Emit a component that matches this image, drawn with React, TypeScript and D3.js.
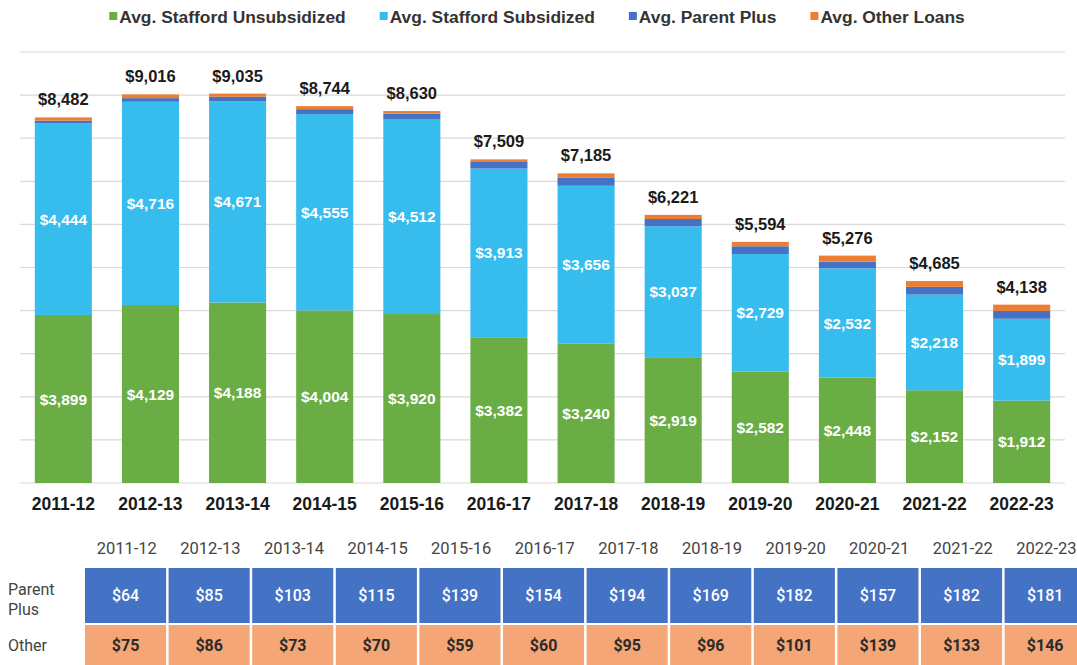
import React, { useEffect, useRef } from 'react';
import * as d3 from 'd3';

const years = ['2011-12', '2012-13', '2013-14', '2014-15', '2015-16', '2016-17', '2017-18', '2018-19', '2019-20', '2020-21', '2021-22', '2022-23'];
const unsubsidized = [3899, 4129, 4188, 4004, 3920, 3382, 3240, 2919, 2582, 2448, 2152, 1912];
const subsidized = [4444, 4716, 4671, 4555, 4512, 3913, 3656, 3037, 2729, 2532, 2218, 1899];
const parentPlus = [64, 85, 103, 115, 139, 154, 194, 169, 182, 157, 182, 181];
const otherLoans = [75, 86, 73, 70, 59, 60, 95, 96, 101, 139, 133, 146];
const totals = [8482, 9016, 9035, 8744, 8630, 7509, 7185, 6221, 5594, 5276, 4685, 4138];

const seriesNames = ['Avg. Stafford Unsubsidized', 'Avg. Stafford Subsidized', 'Avg. Parent Plus', 'Avg. Other Loans'];
const seriesColors = ['#6aad45', '#36bdee', '#4472c4', '#ed7d31'];
const yTicks = [0, 1000, 2000, 3000, 4000, 5000, 6000, 7000, 8000, 9000, 10000];

const W = 1077;
const H = 665;
const chartFont = '"Liberation Sans", Arial, sans-serif';
const tableFont = 'Roboto, "Noto Sans", sans-serif';

export default function App() {
  const svgRef = useRef<SVGSVGElement>(null);

  useEffect(() => {
    if (!svgRef.current) return;
    const svg = d3.select(svgRef.current);
    svg.selectAll('*').remove();

    const plot = { left: 20, right: 1065, top: 52, bottom: 483 };

    const x = d3.scaleBand<string>()
      .domain(years)
      .range([plot.left, plot.right])
      .paddingInner(0.345)
      .paddingOuter(0.17);

    const y = d3.scaleLinear()
      .domain([0, 10000])
      .range([plot.bottom, plot.top]);

    // gridlines
    svg.append('g')
      .selectAll('line')
      .data(yTicks)
      .enter()
      .append('line')
      .attr('x1', plot.left)
      .attr('x2', plot.right)
      .attr('y1', d => y(d))
      .attr('y2', d => y(d))
      .attr('stroke', '#d9d9d9')
      .attr('stroke-width', 1.2);

    // stack
    const rows = years.map((yr, i) => ({
      year: yr,
      unsub: unsubsidized[i],
      sub: subsidized[i],
      pp: parentPlus[i],
      other: otherLoans[i],
    }));
    const keys = ['unsub', 'sub', 'pp', 'other'];
    const stacked = d3.stack<any>().keys(keys)(rows);

    const layers = svg.append('g')
      .selectAll('g')
      .data(stacked)
      .enter()
      .append('g')
      .attr('fill', (d, i) => seriesColors[i]);

    layers.selectAll('rect')
      .data(d => d)
      .enter()
      .append('rect')
      .attr('x', (d: any) => x(d.data.year)!)
      .attr('width', x.bandwidth())
      .attr('y', d => y(d[1]))
      .attr('height', d => y(d[0]) - y(d[1]));

    // inside labels for the two big segments
    stacked.slice(0, 2).forEach(layer => {
      svg.append('g')
        .selectAll('text')
        .data(layer)
        .enter()
        .append('text')
        .attr('x', (d: any) => x(d.data.year)! + x.bandwidth() / 2)
        .attr('y', d => (y(d[0]) + y(d[1])) / 2)
        .attr('dy', '0.36em')
        .attr('text-anchor', 'middle')
        .attr('font-family', chartFont)
        .attr('font-weight', 'bold')
        .attr('font-size', 15.5)
        .attr('fill', '#ffffff')
        .text(d => d3.format('$,')(d[1] - d[0]));
    });

    // totals
    svg.append('g')
      .selectAll('text')
      .data(totals)
      .enter()
      .append('text')
      .attr('x', (d, i) => x(years[i])! + x.bandwidth() / 2)
      .attr('y', (d, i) => y(unsubsidized[i] + subsidized[i] + parentPlus[i] + otherLoans[i]) - 12)
      .attr('text-anchor', 'middle')
      .attr('font-family', chartFont)
      .attr('font-weight', 'bold')
      .attr('font-size', 16.5)
      .attr('fill', '#1a1a1a')
      .text(d => d3.format('$,')(d));

    // x axis labels
    svg.append('g')
      .selectAll('text')
      .data(years)
      .enter()
      .append('text')
      .attr('x', d => x(d)! + x.bandwidth() / 2)
      .attr('y', 510)
      .attr('text-anchor', 'middle')
      .attr('font-family', chartFont)
      .attr('font-weight', 'bold')
      .attr('font-size', 17.5)
      .attr('fill', '#1a1a1a')
      .text(d => d);

    // legend
    const legend = svg.append('g');
    const gap = 34;
    let lx = 0;
    seriesNames.forEach((name, i) => {
      const item = legend.append('g').attr('transform', `translate(${lx},0)`);
      item.append('rect')
        .attr('x', 0)
        .attr('y', 12)
        .attr('width', 8)
        .attr('height', 8)
        .attr('fill', seriesColors[i]);
      const t = item.append('text')
        .attr('x', 10)
        .attr('y', 23)
        .attr('font-family', chartFont)
        .attr('font-weight', 'bold')
        .attr('font-size', 17.4)
        .attr('fill', '#333333')
        .text(name);
      const tw = (t.node() as SVGTextElement).getComputedTextLength();
      lx += 10 + tw + gap;
    });
    const legendWidth = lx - gap;
    legend.attr('transform', `translate(${537 - legendWidth / 2},0)`);

    // table
    const tx = d3.scaleBand<string>()
      .domain(years)
      .range([85, 85 + 12 * 83.6]);

    svg.append('g')
      .selectAll('text')
      .data(years)
      .enter()
      .append('text')
      .attr('x', d => tx(d)! + tx.bandwidth() / 2)
      .attr('y', 554)
      .attr('text-anchor', 'middle')
      .attr('font-family', tableFont)
      .attr('font-size', 16.5)
      .attr('fill', '#444444')
      .text(d => d);

    const tableRows = [
      { values: parentPlus, fill: '#4472c4', text: '#ffffff', top: 568, h: 55 },
      { values: otherLoans, fill: '#f4a676', text: '#2b2b2b', top: 625, h: 45 },
    ];
    tableRows.forEach(row => {
      const g = svg.append('g');
      g.selectAll('rect')
        .data(row.values)
        .enter()
        .append('rect')
        .attr('x', (d, i) => tx(years[i])!)
        .attr('y', row.top)
        .attr('width', tx.bandwidth() - 2.5)
        .attr('height', row.h)
        .attr('fill', row.fill);
      g.selectAll('text')
        .data(row.values)
        .enter()
        .append('text')
        .attr('x', (d, i) => tx(years[i])! + (tx.bandwidth() - 2.5) / 2)
        .attr('y', row.top + (row === tableRows[0] ? row.h / 2 : 20))
        .attr('dy', '0.36em')
        .attr('text-anchor', 'middle')
        .attr('font-family', tableFont)
        .attr('font-weight', row === tableRows[0] ? 500 : 'bold')
        .attr('font-size', 16)
        .attr('fill', row.text)
        .text(d => '$' + d);
    });

    // row labels
    const rowLabel = svg.append('g')
      .attr('font-family', tableFont)
      .attr('font-size', 16)
      .attr('fill', '#444444');
    rowLabel.append('text').attr('x', 8).attr('y', 595).text('Parent');
    rowLabel.append('text').attr('x', 8).attr('y', 615).text('Plus');
    rowLabel.append('text').attr('x', 8).attr('y', 651).text('Other');
  }, []);

  return (
    <svg
      ref={svgRef}
      width={W}
      height={H}
      style={{ position: 'absolute', left: 0, top: 0, background: '#ffffff' }}
    />
  );
}
